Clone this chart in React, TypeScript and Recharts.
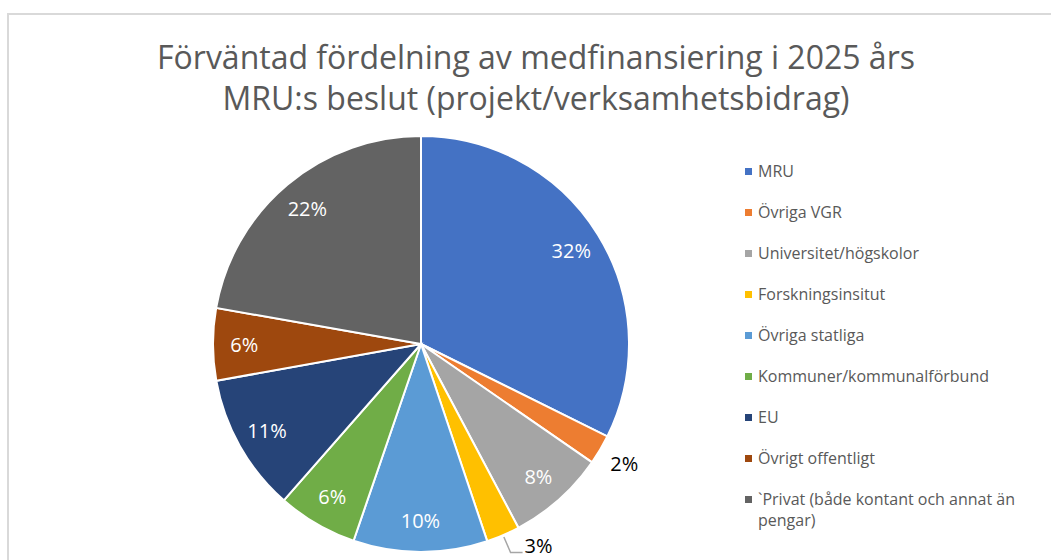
import { Cell, Legend, Pie, PieChart } from "recharts";

const categories = [
  "MRU",
  "Övriga VGR",
  "Universitet/högskolor",
  "Forskningsinsitut",
  "Övriga statliga",
  "Kommuner/kommunalförbund",
  "EU",
  "Övrigt offentligt",
  "`Privat (både kontant och annat än pengar)",
];
const shares = [32.3, 2.3, 7.6, 2.6, 10.4, 6.2, 10.7, 5.6, 22.2];
const colors = [
  "#4472C4",
  "#ED7D31",
  "#A5A5A5",
  "#FFC000",
  "#5B9BD5",
  "#70AD47",
  "#264478",
  "#9E480E",
  "#636363",
];
const titleLines = [
  "Förväntad fördelning av medfinansiering i 2025 års",
  "MRU:s beslut (projekt/verksamhetsbidrag)",
];

const FONT = "'Open Sans', sans-serif";
const RAD = Math.PI / 180;

const data = categories.map((name, i) => ({ name, value: shares[i] }));

function renderLabel(props: any) {
  const { cx, cy, midAngle, outerRadius, percent, index } = props;
  const text = `${Math.round(percent * 100)}%`;
  const cos = Math.cos(-midAngle * RAD);
  const sin = Math.sin(-midAngle * RAD);
  if (percent >= 0.04) {
    const r = outerRadius * 0.85;
    return (
      <text
        key={index}
        x={cx + r * cos}
        y={cy + r * sin}
        fill="#fff"
        fontSize={20}
        fontFamily={FONT}
        textAnchor="middle"
        dominantBaseline="central"
      >
        {text}
      </text>
    );
  }
  if (index === 3) {
    const x1 = cx + (outerRadius + 2) * cos;
    const y1 = cy + (outerRadius + 2) * sin;
    const x2 = cx + (outerRadius + 19) * cos;
    const y2 = cy + (outerRadius + 19) * sin;
    const x3 = x2 + 12;
    return (
      <g key={index}>
        <polyline
          points={`${x1},${y1} ${x2},${y2} ${x3},${y2}`}
          fill="none"
          stroke="#A6A6A6"
          strokeWidth={1.5}
        />
        <text x={x3 + 2} y={y2} fill="#000" fontSize={20} fontFamily={FONT} textAnchor="start">
          {text}
        </text>
      </g>
    );
  }
  const r = outerRadius * 1.135;
  return (
    <text
      key={index}
      x={cx + r * cos}
      y={cy + r * sin}
      fill="#000"
      fontSize={20}
      fontFamily={FONT}
      textAnchor="middle"
      dominantBaseline="central"
    >
      {text}
    </text>
  );
}

function LegendList() {
  return (
    <ul style={{ listStyle: "none", margin: 0, padding: 0, width: 290 }}>
      {categories.map((name, i) => (
        <li
          key={name}
          style={{
            display: "flex",
            alignItems: "flex-start",
            height: 41,
            fontFamily: FONT,
            fontSize: 16,
            lineHeight: "21px",
            color: "#595959",
          }}
        >
          <span
            style={{
              width: 7,
              height: 7,
              background: colors[i],
              marginTop: 7,
              marginRight: 6,
              flex: "none",
            }}
          />
          <span>{name}</span>
        </li>
      ))}
    </ul>
  );
}

export default function App() {
  return (
    <div
      style={{
        position: "absolute",
        left: 0,
        top: 0,
        width: 1051,
        height: 560,
        background: "#fff",
        overflow: "hidden",
      }}
    >
      <div
        style={{
          position: "absolute",
          left: 7,
          top: 13,
          width: 1100,
          height: 600,
          border: "2px solid #d9d9d9",
        }}
      />
      <div
        style={{
          position: "absolute",
          left: 0,
          top: 36,
          width: 1072,
          textAlign: "center",
          fontFamily: FONT,
          fontSize: 32,
          lineHeight: "41px",
          color: "#595959",
        }}
      >
        {titleLines.map((t) => (
          <div key={t}>{t}</div>
        ))}
      </div>
      <PieChart
        width={1051}
        height={560}
        margin={{ top: 0, right: 0, bottom: 0, left: 0 }}
        style={{ position: "absolute", left: 0, top: 0 }}
      >
        <Pie
          data={data}
          dataKey="value"
          nameKey="name"
          cx={421}
          cy={344}
          outerRadius={208}
          startAngle={90}
          endAngle={-270}
          stroke="#fff"
          strokeWidth={2}
          label={renderLabel}
          labelLine={false}
          isAnimationActive={false}
        >
          {data.map((d, i) => (
            <Cell key={d.name} fill={colors[i]} />
          ))}
        </Pie>
        <Legend
          layout="vertical"
          verticalAlign="top"
          align="right"
          content={() => <LegendList />}
          wrapperStyle={{ left: 745, top: 161, width: 290 }}
        />
      </PieChart>
    </div>
  );
}
